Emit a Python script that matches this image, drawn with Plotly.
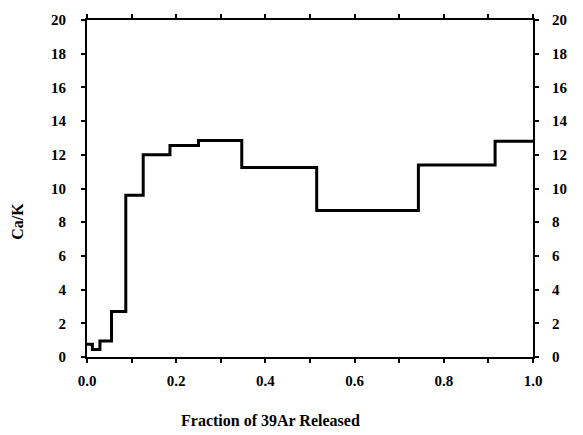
import plotly.graph_objects as go

# Step edges (fraction of 39Ar released) and Ca/K values of each step
step_edges = [0.0, 0.012, 0.029, 0.055, 0.087, 0.126, 0.186, 0.25, 0.347, 0.515, 0.743, 0.915, 1.0]
ca_k = [0.75, 0.45, 0.95, 2.7, 9.6, 12.0, 12.55, 12.85, 11.25, 8.7, 11.4, 12.8]

x_tick_vals = [0.0, 0.1, 0.2, 0.3, 0.4, 0.5, 0.6, 0.7, 0.8, 0.9, 1.0]
x_tick_text = ["<b>0.0</b>", "", "<b>0.2</b>", "", "<b>0.4</b>", "", "<b>0.6</b>", "", "<b>0.8</b>", "", "<b>1.0</b>"]
y_tick_vals = [0, 2, 4, 6, 8, 10, 12, 14, 16, 18, 20]
y_tick_text = ["<b>%d</b>" % v for v in y_tick_vals]

tfont = dict(family="Liberation Serif", size=15, color="#000000")

xs = step_edges
ys = ca_k + [ca_k[-1]]

fig = go.Figure()
fig.add_trace(go.Scatter(x=xs, y=ys, mode="lines", line=dict(shape="hv", color="black", width=3),
                         showlegend=False, hoverinfo="skip"))
fig.add_trace(go.Scatter(x=xs, y=ys, mode="lines", yaxis="y2", line=dict(shape="hv", color="black", width=0),
                         opacity=0, showlegend=False, hoverinfo="skip"))

axis_common = dict(showgrid=False, zeroline=False, showline=True, linecolor="black", linewidth=2,
                   ticks="outside", ticklen=4, tickwidth=2, tickcolor="black", tickfont=tfont)

fig.update_layout(
    width=583, height=435,
    margin=dict(l=87, r=50, t=18, b=78),
    paper_bgcolor="white", plot_bgcolor="white",
    font=dict(family="Liberation Serif", color="black"),
    xaxis=dict(range=[0, 1.0], tickvals=x_tick_vals, ticktext=x_tick_text, mirror="allticks",
               ticklabelstandoff=5, **axis_common),
    yaxis=dict(range=[0, 20], tickvals=y_tick_vals, ticktext=y_tick_text,
               ticklabelstandoff=12, **axis_common),
    yaxis2=dict(range=[0, 20], tickvals=y_tick_vals, ticktext=y_tick_text, overlaying="y", side="right",
                ticklabelstandoff=10, **axis_common),
    annotations=[
        dict(text="<b>Fraction of 39Ar Released</b>", xref="paper", yref="paper",
             x=(270 - 87) / 446, y=(357 - 421) / 339, xanchor="center", yanchor="middle",
             showarrow=False, font=dict(family="Liberation Serif", size=16, color="black")),
        dict(text="<b>Ca/K</b>", xref="paper", yref="paper", textangle=-90,
             x=(18 - 87) / 446, y=(357 - 221) / 339, xanchor="center", yanchor="middle",
             showarrow=False, font=dict(family="Liberation Serif", size=16, color="black")),
    ],
)

fig.write_html("out.html")
